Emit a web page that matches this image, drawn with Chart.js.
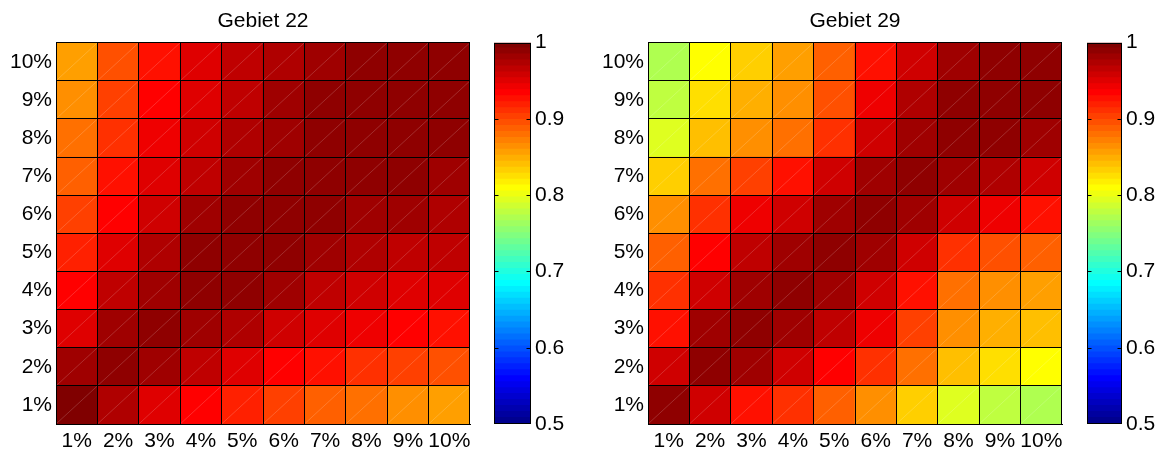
<!DOCTYPE html>
<html>
<head>
<meta charset="utf-8">
<script src="https://cdn.jsdelivr.net/npm/chart.js@4.4.0/dist/chart.umd.min.js"></script>
<style>
  html, body { margin: 0; padding: 0; background: #fff; }
  #wrap { position: relative; width: 1161px; height: 453px; overflow: hidden; }
  .box { position: absolute; top: 0; }
  .box canvas { display: block; }
</style>
</head>
<body>
<div id="wrap">
  <div class="box" style="left:0px"><canvas id="heat22" width="480" height="453"></canvas></div>
  <div class="box" style="left:480px"><canvas id="bar22" width="100" height="453"></canvas></div>
  <div class="box" style="left:580px"><canvas id="heat29" width="490" height="453"></canvas></div>
  <div class="box" style="left:1070px"><canvas id="bar29" width="91" height="453"></canvas></div>
</div>
<script>
// Achsenbeschriftungen
const labelsX = ['1%', '2%', '3%', '4%', '5%', '6%', '7%', '8%', '9%', '10%'];
const labelsY = ['1%', '2%', '3%', '4%', '5%', '6%', '7%', '8%', '9%', '10%'];

// Werte je Zeile (unten 1% bis oben 10%), Spalten 1% .. 10%
const gebiet22 = [
  [0.996, 0.973, 0.949, 0.934, 0.918, 0.902, 0.887, 0.879, 0.863, 0.855],
  [0.980, 0.988, 0.980, 0.965, 0.949, 0.934, 0.926, 0.910, 0.902, 0.895],
  [0.949, 0.980, 0.988, 0.980, 0.973, 0.957, 0.949, 0.941, 0.934, 0.926],
  [0.934, 0.965, 0.980, 0.988, 0.988, 0.980, 0.965, 0.957, 0.949, 0.949],
  [0.918, 0.949, 0.973, 0.988, 0.988, 0.988, 0.980, 0.973, 0.965, 0.965],
  [0.902, 0.934, 0.957, 0.980, 0.988, 0.988, 0.988, 0.980, 0.980, 0.973],
  [0.887, 0.926, 0.949, 0.965, 0.980, 0.988, 0.988, 0.988, 0.988, 0.980],
  [0.879, 0.910, 0.941, 0.957, 0.973, 0.980, 0.988, 0.988, 0.988, 0.988],
  [0.863, 0.902, 0.934, 0.949, 0.965, 0.980, 0.988, 0.988, 0.988, 0.988],
  [0.855, 0.895, 0.926, 0.949, 0.965, 0.973, 0.980, 0.988, 0.988, 0.988]
];
const gebiet29 = [
  [0.988, 0.957, 0.926, 0.910, 0.887, 0.863, 0.832, 0.793, 0.777, 0.770],
  [0.957, 0.988, 0.980, 0.957, 0.934, 0.910, 0.879, 0.840, 0.824, 0.809],
  [0.926, 0.980, 0.988, 0.980, 0.965, 0.941, 0.902, 0.863, 0.848, 0.840],
  [0.910, 0.957, 0.980, 0.988, 0.980, 0.957, 0.926, 0.879, 0.863, 0.855],
  [0.887, 0.934, 0.965, 0.980, 0.988, 0.980, 0.957, 0.910, 0.895, 0.887],
  [0.863, 0.910, 0.941, 0.957, 0.980, 0.988, 0.980, 0.957, 0.941, 0.926],
  [0.832, 0.879, 0.902, 0.926, 0.957, 0.980, 0.988, 0.980, 0.973, 0.957],
  [0.793, 0.840, 0.863, 0.879, 0.910, 0.957, 0.980, 0.988, 0.988, 0.980],
  [0.777, 0.824, 0.848, 0.863, 0.895, 0.941, 0.973, 0.988, 0.988, 0.988],
  [0.770, 0.809, 0.832, 0.855, 0.887, 0.926, 0.957, 0.980, 0.988, 0.988]
];

// Farbskala
const cMin = 0.5;
const cMax = 1.0;
const nColors = 64;
const cbarTicks = [0.5, 0.6, 0.7, 0.8, 0.9, 1.0];

Chart.defaults.font.family = '"Liberation Sans", Arial, Helvetica, sans-serif';
Chart.defaults.font.size = 21;
Chart.defaults.color = '#000';

// jet(64) wie in MATLAB
function jetU(j) {
  if (j < 1 || j > 47) return 0;
  if (j <= 16) return j / 16;
  if (j <= 31) return 1;
  return (48 - j) / 16;
}
function jetColor(i) {
  const r = jetU(i - 24), g = jetU(i - 8), b = jetU(i + 8);
  return 'rgb(' + Math.round(r * 255) + ',' + Math.round(g * 255) + ',' + Math.round(b * 255) + ')';
}
function colorIndex(v) {
  const i = Math.floor((v - cMin) / (cMax - cMin) * nColors) + 1;
  return Math.min(nColors, Math.max(1, i));
}

// feine helle Diagonale in jeder Zelle
const diagonalPlugin = {
  id: 'diagonal',
  afterDatasetsDraw(chart) {
    const ctx = chart.ctx;
    ctx.save();
    ctx.strokeStyle = 'rgba(255,255,255,0.25)';
    ctx.lineWidth = 0.7;
    chart.data.datasets.forEach((ds, di) => {
      chart.getDatasetMeta(di).data.forEach(bar => {
        const p = bar.getProps(['x', 'y', 'base', 'width'], true);
        const top = Math.min(p.y, p.base), bot = Math.max(p.y, p.base);
        ctx.beginPath();
        ctx.moveTo(p.x - p.width / 2, bot);
        ctx.lineTo(p.x + p.width / 2, top);
        ctx.stroke();
      });
    });
    ctx.restore();
  }
};

// Rahmen und Striche der Farbleiste
const framePlugin = {
  id: 'frame',
  afterDraw(chart) {
    const a = chart.chartArea;
    const ctx = chart.ctx;
    const sc = chart.scales.y;
    ctx.save();
    ctx.strokeStyle = '#000';
    ctx.lineWidth = 1;
    const l = Math.round(a.left) + 0.5, r = Math.round(a.right) - 0.5;
    const t = Math.round(a.top) + 0.5, b = Math.round(a.bottom) - 0.5;
    ctx.strokeRect(l, t, r - l, b - t);
    sc.ticks.forEach(tk => {
      if (tk.value <= cMin || tk.value >= cMax) return;
      const y = Math.round(sc.getPixelForValue(tk.value)) + 0.5;
      ctx.beginPath();
      ctx.moveTo(l, y); ctx.lineTo(l + 4, y);
      ctx.moveTo(r, y); ctx.lineTo(r - 4, y);
      ctx.stroke();
    });
    ctx.restore();
  }
};

function heatmap(id, title, values, yWidth, padRight) {
  return new Chart(document.getElementById(id), {
    type: 'bar',
    data: {
      labels: labelsX,
      datasets: values.map((row, r) => ({
        data: row.map(() => [r, r + 1]),
        backgroundColor: row.map(v => jetColor(colorIndex(v))),
        borderWidth: 0,
        grouped: false,
        barPercentage: 1,
        categoryPercentage: 1
      }))
    },
    options: {
      responsive: false,
      animation: false,
      events: [],
      layout: { padding: { top: 0, right: padRight, bottom: 0, left: 0 } },
      plugins: {
        legend: { display: false },
        tooltip: { enabled: false },
        title: {
          display: true,
          text: title,
          fullSize: false,
          color: '#000',
          font: { size: 21, weight: 'normal' },
          padding: { top: 9, bottom: 8.5 }
        }
      },
      scales: {
        x: {
          offset: true,
          grid: { offset: true, color: '#000', lineWidth: 1, drawTicks: false, z: 1 },
          border: { color: '#000', z: 1 },
          ticks: { color: '#000', padding: 5, maxRotation: 0, minRotation: 0, autoSkip: false },
          afterFit: s => { s.height = 29; }
        },
        y: {
          min: 0,
          max: 10,
          position: 'left',
          grid: { display: false, drawTicks: false },
          border: { display: false },
          afterBuildTicks: s => { s.ticks = labelsY.map((t, i) => ({ value: i + 0.5 })); },
          ticks: { color: '#000', padding: 4, autoSkip: false, callback: v => labelsY[Math.floor(v)] },
          afterFit: s => { s.width = yWidth; }
        },
        yGrid: {
          min: 0,
          max: 10,
          position: 'left',
          ticks: { display: false, stepSize: 1 },
          grid: { color: '#000', lineWidth: 1, drawTicks: false, z: 1 },
          border: { display: false },
          afterFit: s => { s.width = 0; }
        }
      }
    },
    plugins: [diagonalPlugin]
  });
}

function colorbar(id, padLeft, axisWidth) {
  const levels = Array.from({ length: nColors }, (_, k) => k + 1);
  const step = (cMax - cMin) / nColors;
  return new Chart(document.getElementById(id), {
    type: 'bar',
    data: {
      labels: [''],
      datasets: levels.map(k => ({
        data: [[cMin + (k - 1) * step, cMin + k * step + 0.001]],
        backgroundColor: jetColor(k),
        borderWidth: 0,
        grouped: false,
        barPercentage: 1,
        categoryPercentage: 1
      }))
    },
    options: {
      responsive: false,
      animation: false,
      events: [],
      layout: { padding: { top: 42.7, right: 0, bottom: 29, left: padLeft } },
      plugins: { legend: { display: false }, tooltip: { enabled: false } },
      scales: {
        x: { display: false },
        y: {
          position: 'right',
          min: cMin,
          max: cMax,
          grid: { display: false, drawTicks: false },
          border: { display: false },
          afterBuildTicks: s => { s.ticks = cbarTicks.map(v => ({ value: v })); },
          ticks: { color: '#000', padding: 4, callback: v => String(+v.toFixed(1)) },
          afterFit: s => { s.width = axisWidth; }
        }
      }
    },
    plugins: [framePlugin]
  });
}

heatmap('heat22', 'Gebiet 22', gebiet22, 56, 10);
colorbar('bar22', 14, 49);
heatmap('heat29', 'Gebiet 29', gebiet29, 68, 8);
colorbar('bar29', 17, 39);
</script>
</body>
</html>
